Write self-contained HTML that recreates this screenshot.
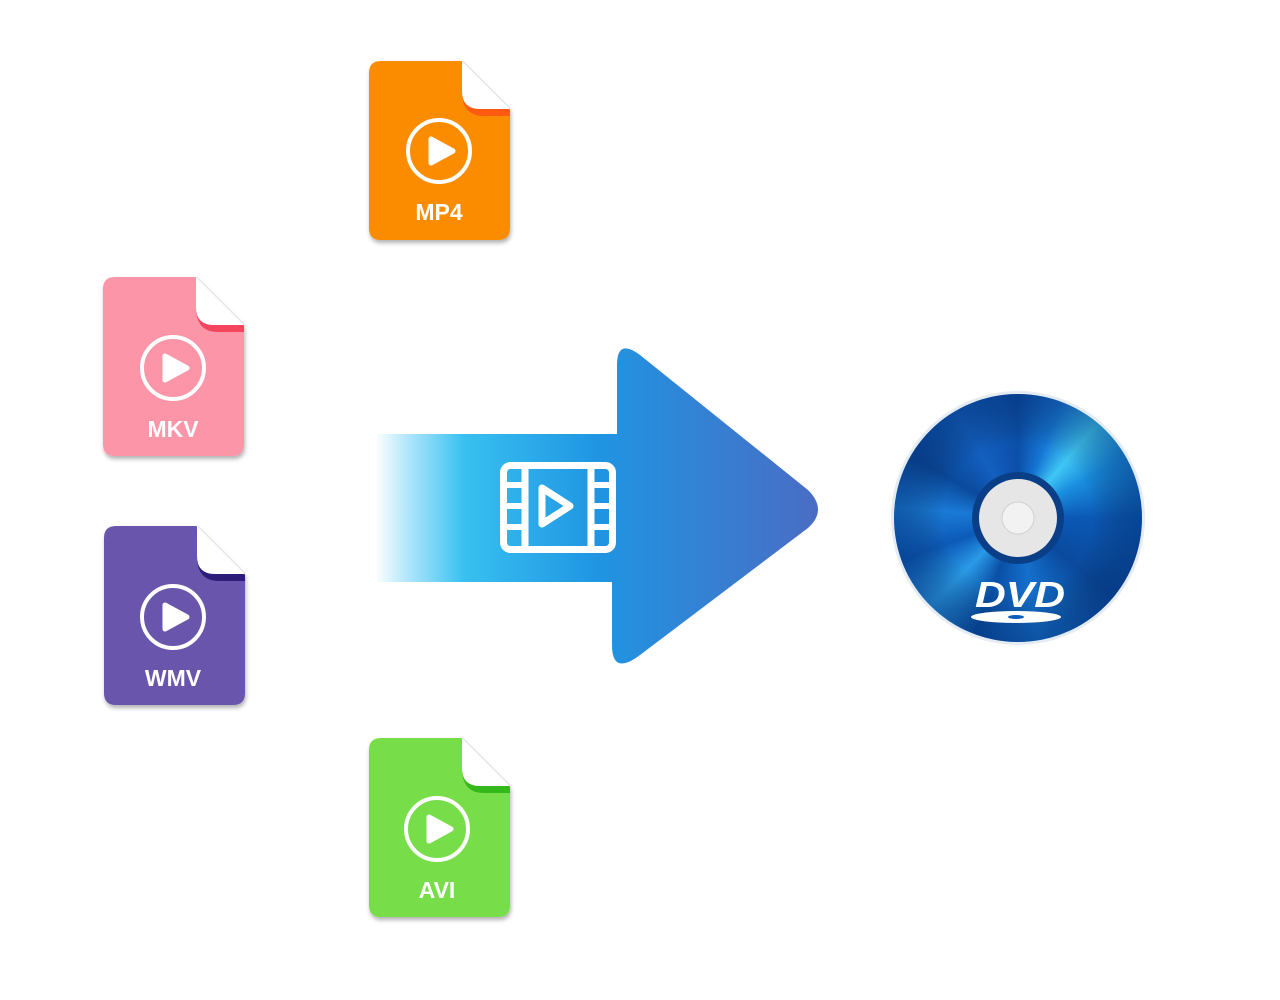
<!DOCTYPE html>
<html><head><meta charset="utf-8"><style>
html,body{margin:0;padding:0;background:#fff;width:1280px;height:1000px;overflow:hidden;position:relative}
svg{display:block;position:absolute;left:0;top:0}
text{font-family:"Liberation Sans",sans-serif;font-weight:bold}
#disc{position:absolute;left:894px;top:394px;width:248px;height:248px;border-radius:50%;
background:conic-gradient(from 0deg,#0b4fa8 0deg,#1676d4 20deg,#3fc6f4 40deg,#1a8ee0 60deg,#0b58b4 90deg,#0a4a9e 130deg,#1470cc 170deg,#0a4fa6 200deg,#2a9ae6 225deg,#0c5ab8 250deg,#1a7ad6 275deg,#0a4a9e 300deg,#1360c0 330deg,#0b4fa8 360deg);
box-shadow:0 0 0 3px #e4ebf3}
</style></head><body>
<div id="disc"></div>
<svg width="1280" height="1000" viewBox="0 0 1280 1000" xmlns="http://www.w3.org/2000/svg">
<defs>
<linearGradient id="ag" x1="375" y1="0" x2="820" y2="0" gradientUnits="userSpaceOnUse">
<stop offset="0" stop-color="#40c4f4" stop-opacity="0"/>
<stop offset="0.08" stop-color="#40c4f4" stop-opacity="0.45"/>
<stop offset="0.2" stop-color="#38c0f0"/>
<stop offset="0.5" stop-color="#1f95e2"/>
<stop offset="1" stop-color="#4a6cc4"/>
</linearGradient>
<radialGradient id="vg" cx="0.5" cy="0.5" r="0.5">
<stop offset="0.6" stop-color="#000" stop-opacity="0"/>
<stop offset="1" stop-color="#002060" stop-opacity="0.35"/>
</radialGradient>
<filter id="sh" x="-10%" y="-10%" width="130%" height="130%"><feDropShadow dx="1" dy="3" stdDeviation="2" flood-opacity="0.3"/></filter>
<g id="fold">
<path d="M93 0L141 48" stroke="#d8d8d8" stroke-width="1.5"/>
<path d="M93 0V30Q93 48 111 48H141Z" fill="#fff"/>
</g>
</defs>

<g transform="translate(369,61)">
<path d="M12 0H93L141 48V167Q141 179 129 179H12Q0 179 0 167V12Q0 0 12 0Z" fill="#fb8c00" filter="url(#sh)"/>
<path d="M93 30Q93 55 115 55H141V48H111Q93 48 93 30Z" fill="#ff5a10"/>
<use href="#fold"/>
<circle cx="70" cy="90" r="31" fill="none" stroke="#fff" stroke-width="4"/>
<path d="M62 78L84 90L62 102Z" fill="#fff" stroke="#fff" stroke-width="5" stroke-linejoin="round"/>
<text x="70" y="159" font-size="23" fill="#fff" text-anchor="middle">MP4</text>
</g>
<g transform="translate(103,277)">
<path d="M12 0H93L141 48V167Q141 179 129 179H12Q0 179 0 167V12Q0 0 12 0Z" fill="#fd95a8" filter="url(#sh)"/>
<path d="M93 30Q93 55 115 55H141V48H111Q93 48 93 30Z" fill="#f5455e"/>
<use href="#fold"/>
<circle cx="70" cy="91" r="31" fill="none" stroke="#fff" stroke-width="4"/>
<path d="M62 79L84 91L62 103Z" fill="#fff" stroke="#fff" stroke-width="5" stroke-linejoin="round"/>
<text x="70" y="160" font-size="23" fill="#fff" text-anchor="middle">MKV</text>
</g>
<g transform="translate(104,526)">
<path d="M12 0H93L141 48V167Q141 179 129 179H12Q0 179 0 167V12Q0 0 12 0Z" fill="#6a55ad" filter="url(#sh)"/>
<path d="M93 30Q93 55 115 55H141V48H111Q93 48 93 30Z" fill="#2e1d78"/>
<use href="#fold"/>
<circle cx="69" cy="91" r="31" fill="none" stroke="#fff" stroke-width="4"/>
<path d="M61 79L83 91L61 103Z" fill="#fff" stroke="#fff" stroke-width="5" stroke-linejoin="round"/>
<text x="69" y="160" font-size="23" fill="#fff" text-anchor="middle">WMV</text>
</g>
<g transform="translate(369,738)">
<path d="M12 0H93L141 48V167Q141 179 129 179H12Q0 179 0 167V12Q0 0 12 0Z" fill="#77dd4a" filter="url(#sh)"/>
<path d="M93 30Q93 55 115 55H141V48H111Q93 48 93 30Z" fill="#36b81c"/>
<use href="#fold"/>
<circle cx="68" cy="91" r="31" fill="none" stroke="#fff" stroke-width="4"/>
<path d="M60 79L82 91L60 103Z" fill="#fff" stroke="#fff" stroke-width="5" stroke-linejoin="round"/>
<text x="68" y="160" font-size="23" fill="#fff" text-anchor="middle">AVI</text>
</g>

<path d="M375 434H617V365Q617 338 640 355L808 490Q828 510 808 528L640 655Q612 676 612 645V582H375Z" fill="url(#ag)"/>
<g fill="none" stroke="#fff" stroke-width="7">
<rect x="503.5" y="465.5" width="109" height="84" rx="7"/>
<line x1="525" y1="466" x2="525" y2="549"/>
<line x1="591" y1="466" x2="591" y2="549"/>
<path d="M542 488L570 506L542 524Z" stroke-linejoin="round"/>
</g>
<g fill="#fff">
<rect x="504" y="482" width="21" height="6"/><rect x="504" y="503" width="21" height="6"/><rect x="504" y="524" width="21" height="6"/>
<rect x="591" y="482" width="21" height="6"/><rect x="591" y="503" width="21" height="6"/><rect x="591" y="524" width="21" height="6"/>
</g>

<circle cx="1018" cy="518" r="124" fill="url(#vg)"/>
<circle cx="1018" cy="518" r="46" fill="#0a3f88"/>
<circle cx="1018" cy="518" r="39" fill="#e6e6e6"/>
<circle cx="1018" cy="518" r="16" fill="#f2f2f2" stroke="#cfcfcf" stroke-width="1"/>
<text x="975" y="607" font-size="36" font-style="italic" fill="#fff" textLength="90" lengthAdjust="spacingAndGlyphs">DVD</text>
<ellipse cx="1016" cy="617" rx="45" ry="6" fill="#fff"/>
<ellipse cx="1016" cy="617" rx="8" ry="2" fill="#0b5cbc"/>
</svg>
</body></html>
